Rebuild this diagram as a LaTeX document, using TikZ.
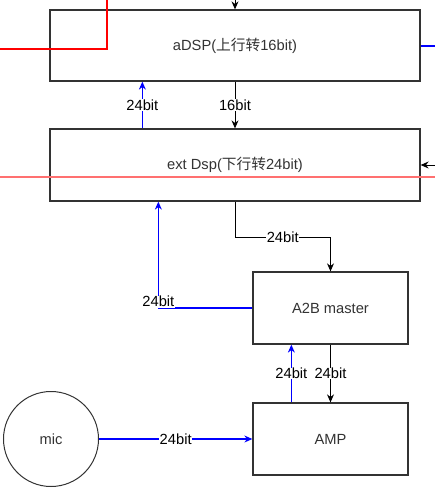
\documentclass[tikz,border=0pt]{standalone}
\usepackage{fontspec}
\setmainfont{Liberation Sans}
\newfontfamily\cjk{Noto Sans CJK SC}
\usetikzlibrary{arrows.meta,calc}
\definecolor{boxgray}{HTML}{333333}
\definecolor{pinkline}{HTML}{FF7070}
\begin{document}
\begin{tikzpicture}[x=1pt,y=-1pt,
  font=\fontsize{14.7}{17}\selectfont,
  box/.style={draw=boxgray,line width=1.3pt,fill=white,text=boxgray,inner sep=0pt},
  blk/.style={draw=black,line width=1pt,-{Stealth[length=8pt,width=7pt]}},
  blu/.style={draw=blue,line width=1.1pt,-{Stealth[length=8pt,width=7pt]}},
  bluplain/.style={draw=blue,line width=1.1pt},
  lbl/.style={fill=white,inner sep=0.5pt,text=black}]
\useasboundingbox (0,0) rectangle (435,499);
% nodes
\node[box,minimum width=370pt,minimum height=71pt] (adsp) at (235,45.5) {aDSP({\cjk 上行转}16bit)};
\node[box,minimum width=370pt,minimum height=72pt] (ext) at (235,165) {ext Dsp({\cjk 下行转}24bit)};
\node[box,minimum width=155pt,minimum height=72pt] (a2b) at (330.5,308) {A2B master};
\node[box,minimum width=155pt,minimum height=72pt] (amp) at (330.5,439) {AMP};
\node[draw=boxgray,line width=1pt,circle,minimum size=95pt,inner sep=0pt,text=boxgray] (mic) at (51,439) {mic};
% free ends
\coordinate (topin) at (235,0);
\coordinate (r1) at (107,0);
\coordinate (r2) at (0,49);
\coordinate (bR) at (435,46);
\coordinate (eR) at (435,165);
\coordinate (p1) at (0,177);
\coordinate (p2) at (435,177);
% connectors
\draw[blk] (topin) -- (adsp.north);
\draw[draw=red,line width=2.8pt] (r1) |- (r2);
\draw[bluplain] (adsp.east |- bR) -- (bR);
\draw[blu] ([xshift=93pt]ext.north west) -- node[lbl]{24bit} ([xshift=93pt]adsp.south west);
\draw[blk] (adsp.south) -- node[lbl]{16bit} (ext.north);
\draw[blk] (eR) -- (ext.east);
\draw[blk] (ext.south) -- ++(0,36) -| node[lbl,pos=0.25]{24bit} (a2b.north);
\draw[blu] (a2b.west) -| node[lbl,pos=0.53]{24bit} ([xshift=109pt]ext.south west);
\draw[blu] ([xshift=39pt]amp.north west) -- node[lbl]{24bit} ([xshift=39pt]a2b.south west);
\draw[blk] (a2b.south) -- node[lbl]{24bit} (amp.north);
\draw[blu] (mic.east) -- node[lbl]{24bit} (amp.west);
\draw[draw=pinkline,line width=1.1pt] (p1) -- (p2);
\end{tikzpicture}
\end{document}
